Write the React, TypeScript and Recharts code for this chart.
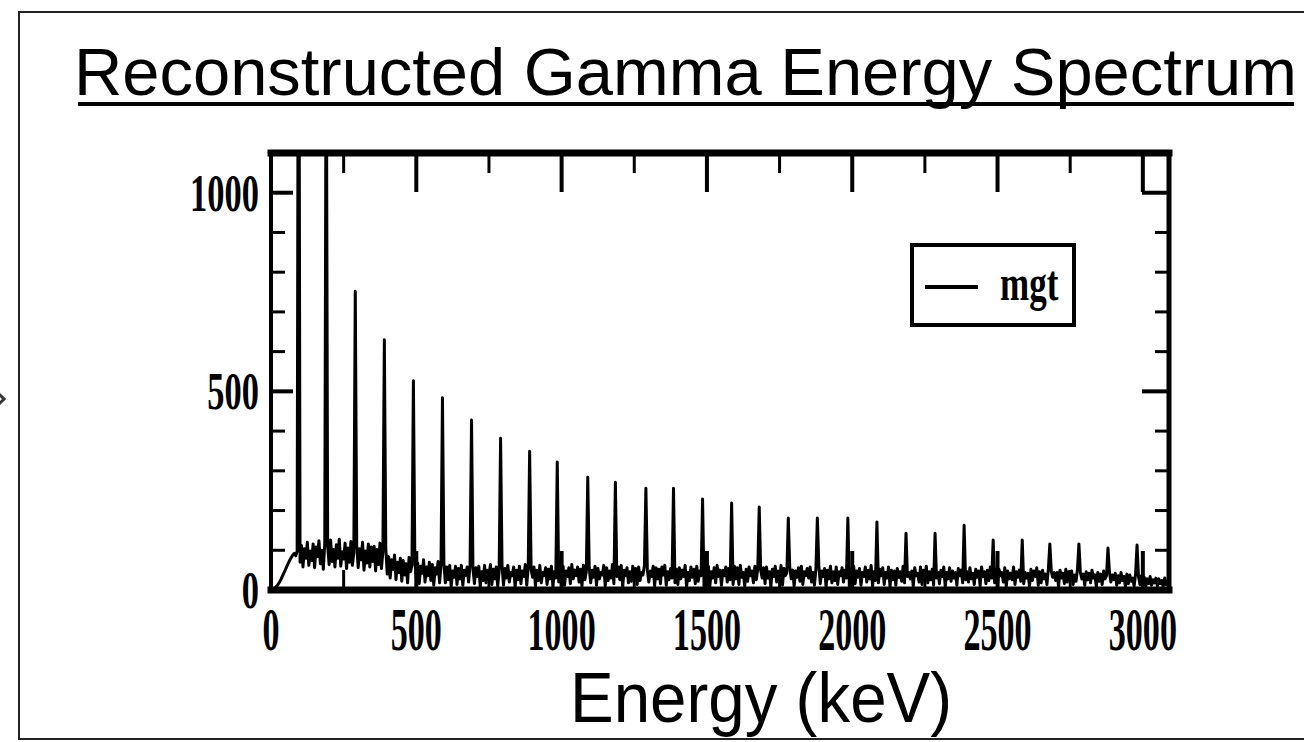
import { LineChart, Line, XAxis, YAxis, Legend } from "recharts"

// spectrum channels are 5 keV wide, starting at 0 keV
const CHANNEL_KEV = 5

// background counts per channel, one row per 50 keV (0 .. 3095 keV)
const backgroundCounts = [
  0, 1, 3, 6, 10, 15, 21, 28, 36, 44,
  52, 60, 68, 76, 82, 88, 92, 86, 98, 104,
  70, 112, 58, 104, 80, 120, 62, 98, 74, 116,
  56, 108, 84, 124, 66, 100, 52, 118, 90, 110,
  64, 126, 72, 102, 58, 114, 80, 128, 60, 96,
  78, 118, 54, 106, 70, 122, 62, 94, 84, 112,
  56, 104, 76, 120, 50, 98, 68, 116, 58, 108,
  72, 110, 48, 102, 64, 118, 54, 96, 80, 104,
  40, 84, 30, 76, 52, 88, 26, 70, 44, 80,
  22, 74, 38, 66, 18, 82, 46, 62, 28, 72,
  30, 68, 16, 60, 42, 76, 20, 58, 36, 70,
  24, 64, 12, 56, 40, 72, 18, 62, 34, 66,
  18, 58, 26, 62, 10, 48, 32, 60, 14, 54,
  28, 62, 12, 50, 36, 58, 20, 64, 30, 52,
  16, 56, 34, 60, 8, 46, 24, 62, 18, 50,
  38, 64, 14, 52, 28, 58, 10, 48, 32, 60,
  12, 54, 30, 62, 20, 44, 36, 58, 8, 50,
  26, 60, 16, 48, 34, 64, 12, 56, 22, 52,
  32, 58, 10, 50, 24, 62, 18, 44, 36, 56,
  14, 52, 28, 60, 8, 46, 30, 62, 20, 54,
  24, 60, 12, 48, 34, 56, 16, 64, 28, 50,
  36, 58, 20, 52, 10, 62, 26, 46, 14, 56,
  18, 50, 32, 60, 12, 54, 28, 44, 38, 62,
  10, 56, 24, 48, 30, 64, 16, 52, 34, 58,
  26, 62, 8, 50, 36, 56, 18, 46, 22, 60,
  30, 54, 14, 58, 24, 44, 38, 62, 12, 50,
  20, 48, 34, 60, 10, 56, 28, 52, 16, 58,
  38, 62, 12, 46, 26, 54, 30, 60, 18, 52,
  14, 56, 28, 50, 34, 62, 8, 44, 24, 58,
  32, 52, 16, 60, 22, 48, 36, 58, 10, 54,
  24, 60, 10, 46, 30, 56, 18, 62, 34, 50,
  12, 50, 36, 58, 20, 54, 26, 48, 14, 60,
  28, 56, 14, 62, 32, 44, 10, 52, 22, 58,
  36, 48, 18, 60, 26, 54, 12, 50, 30, 56,
  16, 58, 30, 46, 8, 52, 34, 60, 20, 48,
  26, 62, 12, 54, 36, 44, 18, 58, 28, 50,
  10, 48, 32, 56, 22, 60, 14, 46, 36, 54,
  30, 58, 20, 44, 12, 52, 26, 62, 16, 48,
  34, 54, 8, 50, 28, 60, 18, 46, 24, 58,
  14, 46, 36, 56, 20, 50, 30, 60, 10, 52,
  26, 60, 16, 48, 32, 54, 12, 44, 34, 58,
  20, 50, 28, 62, 10, 46, 24, 56, 18, 52,
  36, 56, 14, 44, 30, 58, 8, 50, 26, 48,
  12, 54, 32, 46, 22, 60, 18, 52, 34, 44,
  28, 48, 10, 56, 36, 42, 20, 58, 14, 50,
  32, 60, 18, 46, 26, 52, 12, 54, 30, 44,
  16, 50, 34, 58, 8, 44, 28, 56, 22, 48,
  30, 44, 12, 54, 36, 50, 18, 60, 26, 46,
  20, 56, 28, 42, 14, 52, 32, 48, 10, 58,
  34, 46, 16, 50, 24, 58, 30, 44, 18, 52,
  12, 52, 36, 44, 20, 56, 8, 48, 28, 42,
  26, 58, 14, 46, 32, 50, 22, 54, 16, 44,
  30, 42, 10, 52, 24, 48, 34, 56, 12, 46,
  18, 50, 28, 40, 14, 54, 22, 46, 32, 44,
  24, 44, 8, 50, 30, 42, 16, 52, 20, 46,
  32, 48, 14, 38, 22, 52, 10, 44, 28, 40,
  12, 46, 26, 42, 18, 50, 30, 38, 8, 44,
  22, 40, 14, 48, 28, 36, 10, 46, 20, 38,
  26, 42, 12, 36, 18, 44, 24, 34, 8, 40,
  16, 38, 22, 30, 10, 40, 26, 34, 14, 36,
  20, 32, 8, 28, 16, 34, 12, 26, 18, 30,
  10, 28, 16, 24, 8, 30, 14, 22, 12, 26,
]

// peak positions (keV) and their heights (counts)
const peakEnergies = [
  95, 190, 290, 390, 490, 590, 690, 790, 890, 985,
  1090, 1185, 1290, 1385, 1485, 1585, 1680, 1780, 1880, 1985,
  2085, 2185, 2285, 2385, 2485, 2585, 2680, 2780, 2880, 2980,
]
const peakCounts = [
  2000, 1500, 752, 630, 527, 484, 428, 382, 349, 322,
  284, 271, 256, 256, 229, 219, 209, 181, 181, 181,
  171, 143, 143, 163, 126, 126, 116, 116, 106, 113,
]

const energyTicks = [0, 250, 500, 750, 1000, 1250, 1500, 1750, 2000, 2250, 2500, 2750, 3000]
const countTicks = [0, 100, 200, 300, 400, 500, 600, 700, 800, 900, 1000]
const energyDomain = [0, 3090]
const countDomain = [0, 1100]

const data = backgroundCounts.map((c, i) => {
  const energy = i * CHANNEL_KEV
  const p = peakEnergies.indexOf(energy)
  return { energy, counts: p >= 0 ? peakCounts[p] : c }
})

const serif = "'Liberation Serif', 'Times New Roman', serif"
const sans = "'Liberation Sans', Arial, sans-serif"

const LeftTick = (props: any) => {
  const { x, y, payload } = props
  const major = payload.value % 500 === 0
  return (
    <g>
      <line x1={x} y1={y} x2={x + (major ? 22 : 14)} y2={y} stroke="#000" strokeWidth={major ? 4 : 3} />
      {major && (
        <text
          transform={`translate(${x - 12},${y + 18}) scale(0.65,1)`}
          textAnchor="end"
          fontFamily={serif}
          fontWeight="bold"
          fontSize={53}
          fill="#000"
        >
          {payload.value}
        </text>
      )}
    </g>
  )
}

const RightTick = (props: any) => {
  const { x, y, payload } = props
  const major = payload.value % 500 === 0
  return <line x1={x} y1={y} x2={x - (major ? 27 : 14)} y2={y} stroke="#000" strokeWidth={major ? 4 : 3} />
}

const TopTick = (props: any) => {
  const { x, y, payload } = props
  const major = payload.value % 500 === 0
  return <line x1={x} y1={y} x2={x} y2={y + (major ? 39 : 20)} stroke="#000" strokeWidth={major ? 4 : 3} />
}

const BottomTick = (props: any) => {
  const { x, y, payload } = props
  const major = payload.value % 500 === 0
  return (
    <g>
      <line x1={x} y1={y} x2={x} y2={y - (major ? 39 : 20)} stroke="#000" strokeWidth={major ? 4 : 3} />
      {major && (
        <text
          transform={`translate(${x},${y + 60}) scale(0.55,1)`}
          textAnchor="middle"
          fontFamily={serif}
          fontWeight="bold"
          fontSize={62}
          fill="#000"
        >
          {payload.value}
        </text>
      )}
    </g>
  )
}

const LegendBox = () => (
  <svg width={166} height={84}>
    <rect x={2} y={2} width={162} height={80} fill="#fff" stroke="#000" strokeWidth={4} />
    <line x1={15} y1={44} x2={68} y2={44} stroke="#000" strokeWidth={4} />
    <text transform="translate(90,57) scale(0.7,1)" fontFamily={serif} fontWeight="bold" fontSize={50} fill="#000">
      mgt
    </text>
  </svg>
)

export default function App() {
  return (
    <div style={{ position: "absolute", left: 0, top: 0, width: 1304, height: 742, overflow: "hidden", background: "#fff" }}>
      <div
        style={{
          position: "absolute",
          left: 18,
          top: 11,
          width: 1320,
          height: 729,
          boxSizing: "border-box",
          border: "2px solid #222",
        }}
      />
      <div style={{ position: "absolute", left: 0, top: 0 }}>
        <LineChart width={1304} height={742} data={data} margin={{ top: 143, right: 125, bottom: 82, left: 191 }}>
          <Line
            xAxisId="bottom"
            yAxisId="left"
            type="linear"
            dataKey="counts"
            name="mgt"
            stroke="#000"
            strokeWidth={3}
            strokeLinejoin="round"
            dot={false}
            activeDot={false}
            isAnimationActive={false}
          />
          <XAxis
            xAxisId="bottom"
            orientation="bottom"
            type="number"
            dataKey="energy"
            domain={energyDomain}
            ticks={energyTicks}
            interval={0}
            height={70}
            tickSize={0}
            tickMargin={0}
            tickLine={false}
            tick={BottomTick}
            allowDataOverflow
            axisLine={{ stroke: "#000", strokeWidth: 7, strokeLinecap: "square" }}
          />
          <XAxis
            xAxisId="top"
            orientation="top"
            type="number"
            dataKey="energy"
            domain={energyDomain}
            ticks={energyTicks}
            interval={0}
            height={10}
            tickSize={0}
            tickMargin={0}
            tickLine={false}
            tick={TopTick}
            allowDataOverflow
            axisLine={{ stroke: "#000", strokeWidth: 7, strokeLinecap: "square" }}
          />
          <YAxis
            yAxisId="left"
            orientation="left"
            type="number"
            domain={countDomain}
            ticks={countTicks}
            interval={0}
            width={80}
            tickSize={0}
            tickMargin={0}
            tickLine={false}
            tick={LeftTick}
            allowDataOverflow
            axisLine={{ stroke: "#000", strokeWidth: 4, strokeLinecap: "square" }}
          />
          <YAxis
            yAxisId="right"
            orientation="right"
            type="number"
            domain={countDomain}
            ticks={countTicks}
            interval={0}
            width={10}
            tickSize={0}
            tickMargin={0}
            tickLine={false}
            tick={RightTick}
            allowDataOverflow
            axisLine={{ stroke: "#000", strokeWidth: 5, strokeLinecap: "square" }}
          />
          <Legend
            layout="horizontal"
            verticalAlign="middle"
            align="center"
            wrapperStyle={{ left: 910, top: 243, width: 166, height: 84 }}
            content={() => <LegendBox />}
          />
        </LineChart>
      </div>
      <svg width={1304} height={742} style={{ position: "absolute", left: 0, top: 0, pointerEvents: "none" }}>
        <path d="M -3 392 L 4 399 L -3 406" fill="none" stroke="#333" strokeWidth={3} />
        <text
          x={74}
          y={95}
          fontFamily={sans}
          fontSize={67}
          fill="#000"
          textLength={1223}
          lengthAdjust="spacingAndGlyphs"
        >
          Reconstructed Gamma Energy Spectrum
        </text>
        <rect x={78} y={102} width={1216} height={4} fill="#000" />
        <text
          x={570}
          y={722}
          fontFamily={sans}
          fontSize={70}
          fill="#000"
          textLength={382}
          lengthAdjust="spacingAndGlyphs"
        >
          Energy (keV)
        </text>
      </svg>
    </div>
  )
}
